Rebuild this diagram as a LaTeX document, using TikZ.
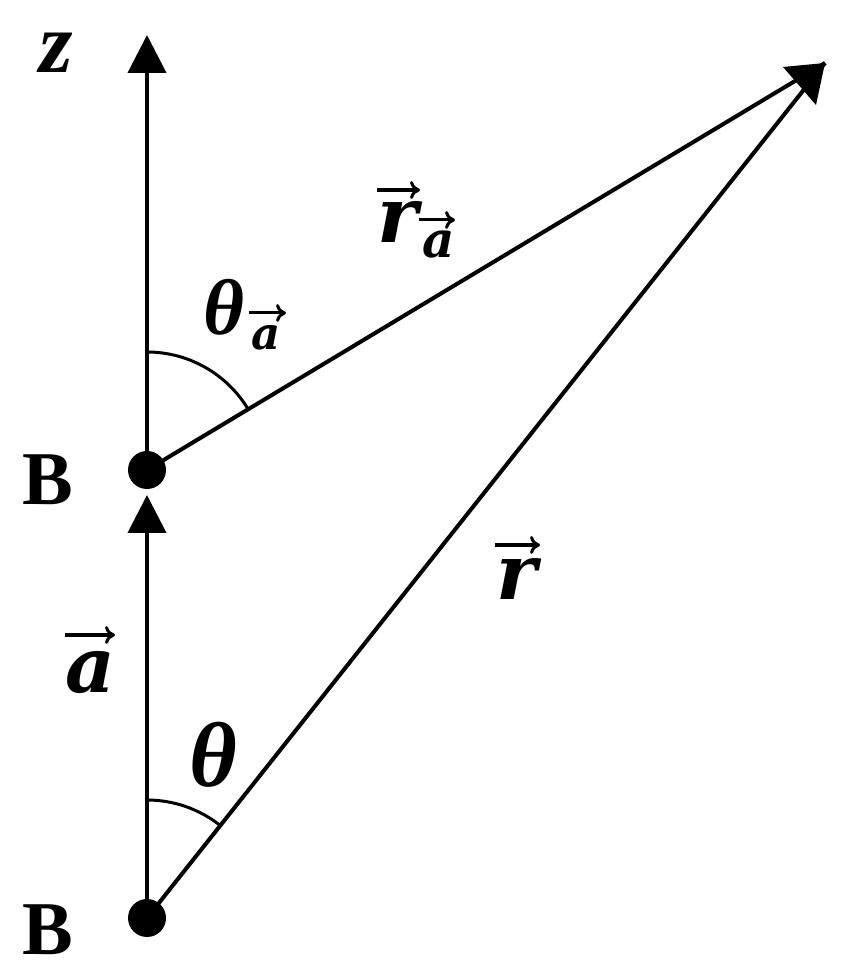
\documentclass[tikz,border=0pt]{standalone}
\usepackage{fontspec}
\setmainfont{Liberation Serif}
\newfontfamily\labfont{DejaVu Serif}
\usetikzlibrary{arrows.meta}
\begin{document}
\begin{tikzpicture}[x=1pt,y=1pt,
  ln/.style={line width=4pt},
  thinln/.style={line width=3pt},
  bigtip/.style={-{Triangle[length=38pt,width=38pt]}},
  varrow/.style={line width=3.5pt, -{Computer Modern Rightarrow[length=10pt,width=18pt,line width=3pt]}},
  dotb/.style={circle, fill=black, inner sep=0pt, minimum size=38pt},
  lab/.style={inner sep=0pt, anchor=base, font=\fontsize{77}{80}\labfont\bfseries\itshape},
  sublab/.style={inner sep=0pt, anchor=base, font=\fontsize{50}{52}\labfont\bfseries\itshape},
  glab/.style={inner sep=0pt, anchor=base, font=\fontsize{#1}{#1}\selectfont\bfseries\itshape},
  blab/.style={inner sep=0pt, anchor=base, font=\fontsize{76}{80}\selectfont\bfseries}]
\useasboundingbox (0,0) rectangle (841,974);
\coordinate (Z) at (147,939);
\coordinate (Atip) at (147,479);
\coordinate (T) at (825,911);
\node[dotb] (Bu) at (147,504) {};
\node[dotb] (Bl) at (147,56) {};
% axes and vectors
\draw[ln,bigtip] (Bu.center) -- (Z);
\draw[ln,bigtip] (Bl.center) -- (Atip);
\draw[ln] (Bl.center) -- (T);
\draw[ln] (Bu.center) -- (T);
\fill (783,907) -- (T) -- (816,869) -- cycle;
% angle arcs
\draw[thinln] ([shift={(90:118pt)}]Bu.center) arc[start angle=90, end angle=31, radius=118pt];
\draw[thinln] ([shift={(90:118pt)}]Bl.center) arc[start angle=90, end angle=51.6, radius=118pt];
% labels
\node[glab=86] (zl) at (56,901) {z};
\node[blab] (Bul) at (48,469) {B};
\node[blab] (Bll) at (48,19) {B};
\node[lab] (al) at (90,281) {a};
\draw[varrow] (65,339) -- (115,339);
\node[lab] (rl) at (517,374) {r};
\draw[varrow] (495,429) -- (540,429);
\node[lab] (ral) at (398,731) {r};
\draw[varrow] (377,784) -- (420,784);
\node[sublab] (rals) at (439,716) {a};
\draw[varrow, line width=3pt] (419,754) -- (455,754);
\node[glab=92] (thl) at (213,187) {θ};
\node[glab=79] (thal) at (224,639) {θ};
\node[sublab, font=\fontsize{45}{46}\labfont\bfseries\itshape] (thals) at (266,624) {a};
\draw[varrow, line width=3pt] (249,661) -- (286,661);
\end{tikzpicture}
\end{document}
